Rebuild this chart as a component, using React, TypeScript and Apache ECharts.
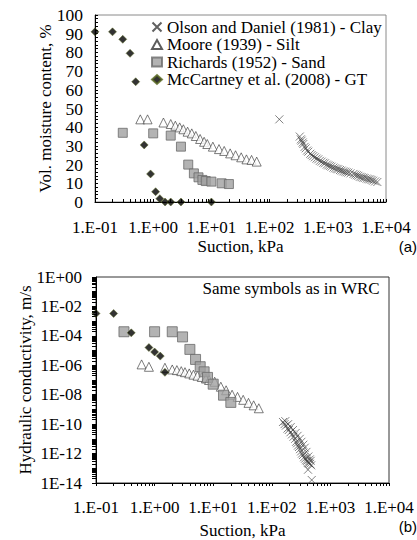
import React, { useEffect, useRef } from "react";
import * as echarts from "echarts";

// ---------- Data ----------
// (a) Water retention curves: suction (kPa) vs volumetric moisture content (%)
const olsonWrcSuction = [147, 330, 355, 380, 417, 462, 527, 600, 685, 785, 895, 1020, 1160, 1330, 1510, 1730, 1980, 2250, 2760, 3150, 3560, 4050, 4650, 5300, 6000, 7100,
  345, 370, 400, 440, 500, 560, 640, 730, 840, 960, 1090, 1250, 1420, 1620, 1850, 2100, 2450, 2950, 3350, 3800, 4300, 4950, 5650, 6500];
const olsonWrcTheta = [44.2, 35, 32.8, 31, 28.7, 26.9, 25.1, 23.9, 22.8, 21.6, 20.7, 19.6, 18.9, 18, 17.5, 16.8, 16.2, 15.7, 15, 14.3, 13.5, 13, 12.5, 12.1, 11.4, 10.7,
  33.5, 31.8, 29.5, 27.5, 25.8, 24.5, 23.2, 22.0, 21.0, 20.0, 19.3, 18.4, 17.7, 17.1, 16.4, 15.9, 15.3, 14.6, 14.0, 13.3, 12.8, 12.2, 11.8, 11.0];

const mooreSuction = [0.6, 0.8, 1.5, 2.0, 2.4, 2.85, 3.3, 3.9, 4.6, 5.4, 6.4, 7.5, 8.5, 10.6, 13.5, 16.6, 21, 26, 32.5, 40, 49, 60];
const mooreTheta = [44.2, 44.2, 42.5, 41.7, 40.8, 39.9, 38.9, 37.6, 36.7, 35.3, 33.7, 32.2, 31, 29.6, 28.3, 27.3, 26, 25, 23.9, 22.8, 22.5, 21.6];

const richardsSuction = [0.3, 1.0, 2.0, 3.0, 4.0, 5.0, 6.0, 7.0, 8.0, 10, 15, 20];
const richardsTheta = [37, 36.7, 35.5, 29.6, 20, 15.3, 13.2, 11.8, 11.2, 10.9, 10, 9.6];

const mccartneySuction = [0.1, 0.2, 0.3, 0.4, 0.5, 0.7, 0.9, 1.1, 1.3, 1.6, 2.0, 3.0, 10];
const mccartneyTheta = [91, 91, 87, 79.5, 64.3, 30.5, 15, 5.5, 1.8, 0, 0, 0, 0];

// (b) Hydraulic conductivity (m/s) vs suction (kPa)
const olsonKSuction = [155, 165, 174, 185, 195, 208, 221, 235, 250, 260, 270, 280, 291, 303, 316, 328, 340, 355, 370, 385, 400, 415, 430, 450, 470, 480, 415,
  170, 190, 210, 230, 255, 275, 300, 320, 345, 365, 390, 420, 445, 460];
const olsonK = [1.4e-10, 1.0e-10, 7.9e-11, 5.0e-11, 4.0e-11, 2.8e-11, 2.0e-11, 1.4e-11, 1.0e-11, 6.3e-12, 5.0e-12, 3.5e-12, 2.8e-12, 2.0e-12, 1.4e-12, 1.0e-12, 7.9e-13, 5.6e-13, 4.5e-13, 3.5e-13, 3.2e-13, 2.5e-13, 2.2e-13, 2.0e-13, 1.6e-13, 1.6e-14, 8e-14,
  1.6e-10, 1.0e-10, 6.3e-11, 4.0e-11, 2.5e-11, 1.6e-11, 1.0e-11, 6.3e-12, 4.0e-12, 2.5e-12, 1.3e-12, 6.3e-13, 4.0e-13, 3.2e-13];

const mooreK = [1.15e-6, 7.9e-7, 6.8e-7, 5.2e-7, 4.7e-7, 4.0e-7, 3.4e-7, 2.8e-7, 2.3e-7, 1.95e-7, 1.6e-7, 1.26e-7, 1.0e-7, 7.6e-8, 3.5e-8, 2.0e-8, 1.0e-8, 7.1e-9, 4.5e-9, 2.8e-9, 1.9e-9, 1.2e-9];

const richardsK = [1.9e-4, 1.9e-4, 1.9e-4, 8.5e-5, 1.2e-5, 2.5e-6, 8e-7, 3.6e-7, 1.5e-7, 5.2e-8, 9.3e-9, 3e-9];

const mccartneyKSuction = [0.1, 0.2, 0.4, 0.8, 1.0, 1.25, 1.5];
const mccartneyK = [3.3e-3, 3.3e-3, 1.6e-4, 1.6e-5, 8e-6, 4.2e-6, 3.3e-7];

// Tick label values
const suctionDecades = [0.1, 1, 10, 100, 1000, 10000];
const thetaTicks = [0, 10, 20, 30, 40, 50, 60, 70, 80, 90, 100];
const kLabelDecades = [1e-14, 1e-12, 1e-10, 1e-8, 1e-6, 1e-4, 1e-2, 1];
const kTickDecades = [1e-14, 1e-13, 1e-12, 1e-11, 1e-10, 1e-9, 1e-8, 1e-7, 1e-6, 1e-5, 1e-4, 1e-3, 1e-2, 1e-1, 1];

const seriesNames = [
  "Olson and Daniel (1981) - Clay",
  "Moore (1939) - Silt",
  "Richards (1952) - Sand",
  "McCartney et al. (2008) - GT",
];

const zip = (a: number[], b: number[]) => a.map((v, i) => [v, b[i]]);

const minorLog = (decades: number[]) => {
  const out: number[] = [];
  decades.forEach((d, i) => {
    out.push(d);
    if (i < decades.length - 1) {
      for (let m = 2; m <= 9; m++) {
        const v = +(d * m).toPrecision(6);
        if (v < decades[i + 1]) out.push(v);
      }
    }
  });
  return out;
};

const SERIF = "'Liberation Serif', 'Times New Roman', serif";
const SANS = "'Liberation Sans', Arial, sans-serif";
const FS = 17;

const fmtSuction = (v: number) => {
  const e = Math.round(Math.log10(v));
  return "1.E" + (e < 0 ? "-" : "+") + String(Math.abs(e)).padStart(2, "0");
};
const fmtK = (v: number) => {
  const e = Math.round(Math.log10(v));
  return "1E" + (e < 0 ? "-" : "+") + String(Math.abs(e)).padStart(2, "0");
};

const CROSS = "path://M0,0L10,10M10,0L0,10";

const styleCross = { color: "none", borderColor: "#3a3a3a", borderWidth: 0.8 };
const styleTri = { color: "#fff", borderColor: "#333", borderWidth: 0.8 };
const styleSq = { color: "#a0a0a0", borderColor: "#6a6a6a", borderWidth: 1 };
const styleDia = { color: "#000", borderColor: "#5a6a20", borderWidth: 0.6 };

export default function App() {
  const ref = useRef<HTMLDivElement>(null);
  useEffect(() => {
    if (!ref.current) return;
    const chart = echarts.init(ref.current, null, { renderer: "svg" });
    const xMinor = minorLog(suctionDecades);
    const kMinor = minorLog(kTickDecades);
    const thetaMinor: number[] = [];
    for (let v = 0; v <= 100; v += 2) thetaMinor.push(v);

    const baseX = (gridIndex: number, inside: boolean, nameGap: number, margin: number) => ({
      type: "log",
      logBase: 10,
      gridIndex,
      min: 0.1,
      max: 10000,
      name: "Suction, kPa",
      nameLocation: "middle",
      nameGap,
      nameMoveOverlap: false,
      nameTextStyle: { fontFamily: SERIF, fontSize: FS, color: "#000" },
      axisLine: { show: true, onZero: false, lineStyle: { color: "#000", width: 1 } },
      axisTick: { show: true, inside, length: 3, customValues: xMinor, lineStyle: { color: "#000" } },
      axisLabel: {
        customValues: suctionDecades,
        formatter: fmtSuction,
        fontFamily: SERIF,
        fontSize: FS,
        color: "#000",
        margin,
      },
      splitLine: { show: false },
    });

    const option: any = {
      animation: false,
      backgroundColor: "#fff",
      legend: {
        show: true,
        orient: "vertical",
        left: 145,
        top: 13.5,
        itemGap: 0.5,
        itemWidth: 10,
        itemHeight: 9,
        data: seriesNames,
        textStyle: { fontFamily: SERIF, fontSize: FS, lineHeight: 17, color: "#000" },
        selectedMode: false,
      },
      grid: [
        { left: 95, top: 15, width: 291, height: 187, show: true, borderColor: "#8a8a8a", borderWidth: 1, backgroundColor: "transparent", outerBoundsMode: "none", containLabel: false },
        { left: 96, top: 277, width: 293, height: 206, show: true, borderColor: "#333", borderWidth: 1, backgroundColor: "transparent", outerBoundsMode: "none", containLabel: false },
      ],
      xAxis: [baseX(0, true, 36, 17), baseX(1, false, 39, 16)],
      yAxis: [
        {
          type: "value",
          gridIndex: 0,
          min: 0,
          max: 100,
          interval: 10,
          name: "Vol. moisture content, %",
          nameLocation: "middle",
          nameRotate: 90,
          nameGap: 41.5,
          nameMoveOverlap: false,
          nameTextStyle: { fontFamily: SERIF, fontSize: FS, color: "#000" },
          axisLine: { show: true, lineStyle: { color: "#000" } },
          axisTick: { show: true, inside: true, length: 3, customValues: thetaMinor, lineStyle: { color: "#000" } },
          axisLabel: { customValues: thetaTicks, fontFamily: SERIF, fontSize: 17.5, color: "#000", margin: 12 },
          splitLine: { show: false },
        },
        {
          type: "log",
          logBase: 10,
          gridIndex: 1,
          min: 1e-14,
          max: 1,
          name: "Hydraulic conductivity, m/s",
          nameLocation: "middle",
          nameRotate: 90,
          nameGap: 62.5,
          nameMoveOverlap: false,
          nameTextStyle: { fontFamily: SERIF, fontSize: FS, color: "#000" },
          axisLine: { show: true, lineStyle: { color: "#000" } },
          axisTick: { show: true, inside: false, length: 4, customValues: kMinor, lineStyle: { color: "#000" } },
          axisLabel: { customValues: kLabelDecades, formatter: fmtK, fontFamily: SERIF, fontSize: FS, color: "#000", margin: 14 },
          splitLine: { show: false },
        },
      ],
      graphic: [
        { type: "text", right: 37, top: 280, style: { text: "Same symbols as in WRC", font: `${FS}px ${SERIF}`, fill: "#000" } },
        { type: "text", right: 0, top: 239, style: { text: "(a)", font: `15px ${SANS}`, fill: "#000" } },
        { type: "text", right: 0, top: 519, style: { text: "(b)", font: `15px ${SANS}`, fill: "#000" } },
      ],
      series: [
        { name: seriesNames[0], type: "scatter", xAxisIndex: 0, yAxisIndex: 0, clip: false, symbol: CROSS, symbolSize: 8, itemStyle: styleCross, data: zip(olsonWrcSuction, olsonWrcTheta) },
        { name: seriesNames[1], type: "scatter", xAxisIndex: 0, yAxisIndex: 0, clip: false, symbol: "triangle", symbolSize: 9, itemStyle: styleTri, data: zip(mooreSuction, mooreTheta) },
        { name: seriesNames[2], type: "scatter", xAxisIndex: 0, yAxisIndex: 0, clip: false, symbol: "rect", symbolSize: 9, itemStyle: styleSq, data: zip(richardsSuction, richardsTheta) },
        { name: seriesNames[3], type: "scatter", xAxisIndex: 0, yAxisIndex: 0, clip: false, symbol: "diamond", symbolSize: 8, itemStyle: styleDia, data: zip(mccartneySuction, mccartneyTheta) },
        { name: seriesNames[0], type: "scatter", xAxisIndex: 1, yAxisIndex: 1, clip: false, symbol: CROSS, symbolSize: 8, itemStyle: styleCross, data: zip(olsonKSuction, olsonK) },
        { name: seriesNames[1], type: "scatter", xAxisIndex: 1, yAxisIndex: 1, clip: false, symbol: "triangle", symbolSize: 9, itemStyle: styleTri, data: zip(mooreSuction, mooreK) },
        { name: seriesNames[2], type: "scatter", xAxisIndex: 1, yAxisIndex: 1, clip: false, symbol: "rect", symbolSize: 10, itemStyle: styleSq, data: zip(richardsSuction, richardsK) },
        { name: seriesNames[3], type: "scatter", xAxisIndex: 1, yAxisIndex: 1, clip: false, symbol: "diamond", symbolSize: 8, itemStyle: styleDia, data: zip(mccartneyKSuction, mccartneyK) },
      ],
    };
    chart.setOption(option);
    return () => chart.dispose();
  }, []);
  return <div ref={ref} style={{ position: "absolute", left: 0, top: 0, width: 417, height: 540 }} />;
}
